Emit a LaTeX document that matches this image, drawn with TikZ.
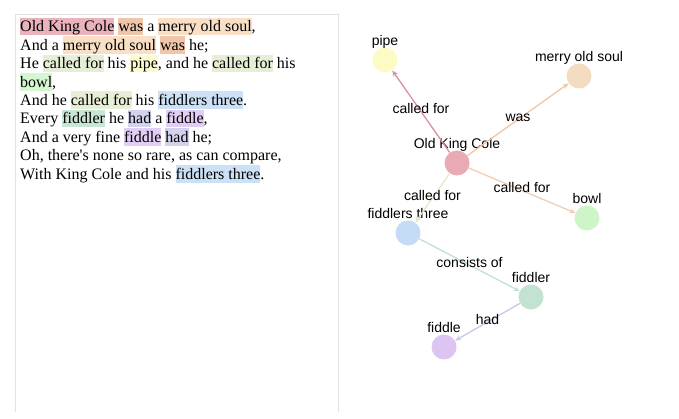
\documentclass[tikz,border=0pt]{standalone}
\usepackage{fontspec}
\setmainfont{Liberation Serif}
\newfontfamily\labelfont{Liberation Sans}
\usetikzlibrary{arrows.meta}

% text highlights
\definecolor{hlcole}{RGB}{234,178,186}
\definecolor{hlwas}{RGB}{240,198,170}
\definecolor{hlsoul}{RGB}{248,223,198}
\definecolor{hlcalled}{RGB}{230,238,214}
\definecolor{hlpipe}{RGB}{253,251,206}
\definecolor{hlbowl}{RGB}{212,246,208}
\definecolor{hlthree}{RGB}{204,224,246}
\definecolor{hlfiddler}{RGB}{200,230,214}
\definecolor{hlhad}{RGB}{210,210,236}
\definecolor{hlfiddle}{RGB}{226,206,244}
% graph
\definecolor{nodecole}{RGB}{233,170,180}
\definecolor{nodepipe}{RGB}{253,251,196}
\definecolor{nodesoul}{RGB}{244,220,192}
\definecolor{nodebowl}{RGB}{205,245,200}
\definecolor{nodethree}{RGB}{196,219,245}
\definecolor{nodefiddler}{RGB}{194,227,210}
\definecolor{nodefiddle}{RGB}{220,197,240}
\definecolor{edgepipe}{RGB}{220,143,156}
\definecolor{edgewas}{RGB}{240,196,164}
\definecolor{edgebowl}{RGB}{242,205,181}
\definecolor{edgethree}{RGB}{224,234,206}
\definecolor{edgeconsists}{RGB}{194,226,208}
\definecolor{edgehad}{RGB}{200,200,230}
\definecolor{panelgray}{RGB}{226,226,226}

\setlength{\fboxsep}{0pt}
\newcommand{\hlword}[2]{\colorbox{#1}{\rule[-0.216em]{0pt}{1.107em}#2}}

\begin{document}
\begin{tikzpicture}[x=1pt,y=-1pt]

%
% Styles
%
\tikzstyle{verse} = [anchor=base west,inner sep=0pt,font=\fontsize{16}{18.4}\selectfont]
\tikzstyle{entity} = [circle,minimum size=25pt,inner sep=0pt]
\tikzstyle{entlabel} = [anchor=base,label distance=2pt,inner sep=0pt,font=\labelfont\fontsize{14}{16}\selectfont]
\tikzstyle{relation} = [-{Stealth[length=6pt,width=5pt]},line width=1.3pt]
\tikzstyle{rellabel} = [anchor=mid,inner sep=0pt,text=black,font=\labelfont\fontsize{14}{16}\selectfont]

\useasboundingbox (0,0) rectangle (679,419);

% text panel
\draw[panelgray,line width=0.8pt] (15,412) -- (15,14) -- (338,14) -- (338,412);

\node[verse] (l1) at (20, 32.0) {\hlword{hlcole}{Old King Cole} \hlword{hlwas}{was} a \hlword{hlsoul}{merry old soul},};
\node[verse] (l2) at (20, 50.4) {And a \hlword{hlsoul}{merry old soul} \hlword{hlwas}{was} he;};
\node[verse] (l3) at (20, 68.8) {He \hlword{hlcalled}{called for} his \hlword{hlpipe}{pipe}, and he \hlword{hlcalled}{called for} his};
\node[verse] (l4) at (20, 87.2) {\hlword{hlbowl}{bowl},};
\node[verse] (l5) at (20,105.6) {And he \hlword{hlcalled}{called for} his \hlword{hlthree}{fiddlers three}.};
\node[verse] (l6) at (20,124.0) {Every \hlword{hlfiddler}{fiddler} he \hlword{hlhad}{had} a \hlword{hlfiddle}{fiddle},};
\node[verse] (l7) at (20,142.4) {And a very fine \hlword{hlfiddle}{fiddle} \hlword{hlhad}{had} he;};
\node[verse] (l8) at (20,160.8) {Oh, there\textquotesingle s none so rare, as can compare,};
\node[verse] (l9) at (20,179.2) {With King Cole and his \hlword{hlthree}{fiddlers three}.};

% graph
\node[entity,fill=nodecole,label={[entlabel]above:Old King Cole}]       (cole)    at (457,163) {};
\node[entity,fill=nodepipe,label={[entlabel]above:pipe}]                (pipe)    at (385, 60) {};
\node[entity,fill=nodesoul,label={[entlabel]above:merry old soul}]      (soul)    at (579, 76) {};
\node[entity,fill=nodebowl,label={[entlabel]above:bowl}]                (bowl)    at (587,218) {};
\node[entity,fill=nodethree,label={[entlabel]above:fiddlers three}]     (three)   at (408,233) {};
\node[entity,fill=nodefiddler,label={[entlabel]above:fiddler}]          (fiddler) at (531,297) {};
\node[entity,fill=nodefiddle,label={[entlabel]above:fiddle}]            (fiddle)  at (444,347) {};

\draw[relation,edgepipe]     (cole)    -- node[rellabel] {called for}  (pipe);
\draw[relation,edgewas]      (cole)    -- node[rellabel] {was}         (soul);
\draw[relation,edgebowl]     (cole)    -- node[rellabel] {called for}  (bowl);
\draw[relation,edgethree]    (cole)    -- node[rellabel] {called for}  (three);
\draw[relation,edgeconsists] (three)   -- node[rellabel] {consists of} (fiddler);
\draw[relation,edgehad]      (fiddler) -- node[rellabel] {had}         (fiddle);

\end{tikzpicture}
\end{document}
